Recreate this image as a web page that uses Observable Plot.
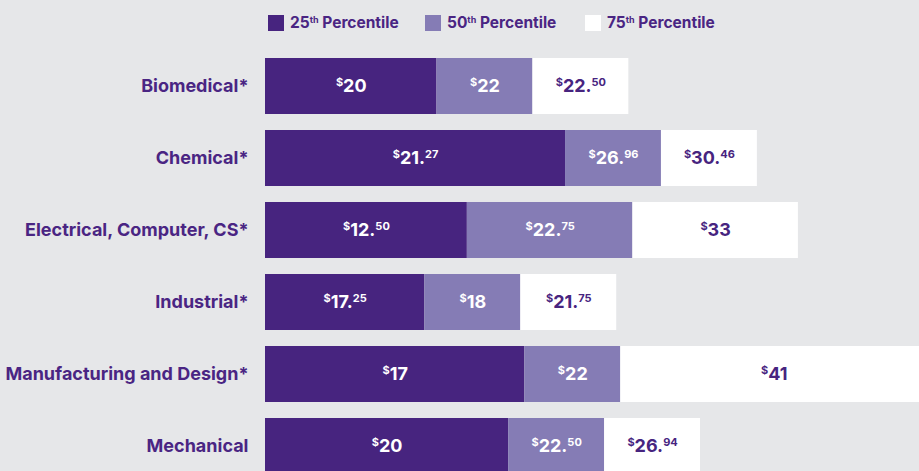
<!DOCTYPE html>
<html>
<head>
<meta charset="utf-8">
<script src="https://cdn.jsdelivr.net/npm/d3@7"></script>
<script src="https://cdn.jsdelivr.net/npm/@observablehq/plot@0.6"></script>
<style>
  html, body { margin: 0; padding: 0; background: #e6e7e9; overflow: hidden; width: 919px; height: 471px; }
  body { font-family: Inter, "Noto Sans", sans-serif; }
  #legend { height: 40px; position: relative; font-weight: 700; font-size: 15.5px; color: #4a2583; }
  .sw { position: absolute; top: 13px; display: flex; align-items: center; white-space: nowrap; }
  .sw i { display: inline-block; width: 16px; height: 16px; margin-right: 6px; }
  .sw sup { font-size: 9px; vertical-align: 5px; line-height: 0; }
</style>
</head>
<body>
<div id="legend"></div>
<div id="chart"></div>
<script>
const categories = ["Biomedical*", "Chemical*", "Electrical, Computer, CS*", "Industrial*", "Manufacturing and Design*", "Mechanical"];
const p25 = [20, 21.27, 12.5, 17.25, 17, 20];
const p50 = [22, 26.96, 22.75, 18, 22, 22.5];
const p75 = [22.5, 30.46, 33, 21.75, 41, 26.94];
const percentiles = ["25th Percentile", "50th Percentile", "75th Percentile"];
const colors = ["#47247f", "#857cb5", "#ffffff"];

// design rule of the original: each of the upper two segments is at least ~5.94 dollars wide
const minSeg = 5.94;
const rows = [];
categories.forEach((c, i) => {
  const s75 = Math.min(p50[i], p75[i] - minSeg);
  const s50 = s75 - Math.max(minSeg, p50[i] - p25[i]);
  rows.push({cat: c, pct: percentiles[0], x1: 0, x2: s50, v: p25[i]});
  rows.push({cat: c, pct: percentiles[1], x1: s50, x2: s75, v: p50[i]});
  rows.push({cat: c, pct: percentiles[2], x1: s75, x2: p75[i], v: p75[i]});
});
const fmt = v => Number.isInteger(v) ? String(v) : v.toFixed(2);

// legend
const leg = document.getElementById("legend");
const legX = [268, 425, 585];
percentiles.forEach((p, i) => {
  const d = document.createElement("div");
  d.className = "sw";
  d.style.left = legX[i] + "px";
  const m = p.match(/^(\d+)(th)(.*)$/);
  d.innerHTML = `<i style="background:${colors[i]}"></i><span>${m[1]}<sup>${m[2]}</sup>${m[3]}</span>`;
  leg.appendChild(d);
});

const chart = Plot.plot({
  width: 919,
  height: 460,
  marginLeft: 265,
  marginRight: 0,
  marginTop: 2,
  marginBottom: 9,
  style: {background: "#e6e7e9", overflow: "hidden", fontFamily: "Inter, 'Noto Sans', sans-serif", fontSize: "18px", fontWeight: "700", color: "#4a2583"},
  x: {domain: [0, 40.5], axis: null},
  y: {domain: categories, padding: 0.22, label: null, tickSize: 0, tickPadding: 17},
  color: {domain: percentiles, range: colors},
  marks: [
    Plot.barX(rows, {y: "cat", x1: "x1", x2: "x2", fill: "pct"}),
    Plot.text(rows.filter(d => d.pct !== percentiles[2]), {
      y: "cat", x: d => (d.x1 + d.x2) / 2, text: d => fmt(d.v),
      fill: "white", fontSize: 18, fontWeight: 700
    }),
    Plot.text(rows.filter(d => d.pct === percentiles[2]), {
      y: "cat", x: d => (d.x1 + d.x2) / 2, text: d => fmt(d.v),
      fill: "#47247f", fontSize: 18, fontWeight: 700
    })
  ]
});
document.getElementById("chart").appendChild(chart);

// superscript dollar sign and cents
const NS = "http://www.w3.org/2000/svg";
chart.querySelectorAll('g[aria-label="text"] text').forEach(t => {
  const s = t.textContent;
  const [whole, cents] = s.split(".");
  t.textContent = "";
  const mk = (txt, size, dy) => {
    const ts = document.createElementNS(NS, "tspan");
    ts.textContent = txt;
    if (size) ts.setAttribute("font-size", size);
    if (dy) ts.setAttribute("dy", dy);
    t.appendChild(ts);
  };
  mk("$", 11, -6);
  mk(whole + (cents ? "." : ""), null, 6);
  if (cents) mk(cents, 11, -6);
});
</script>
</body>
</html>
